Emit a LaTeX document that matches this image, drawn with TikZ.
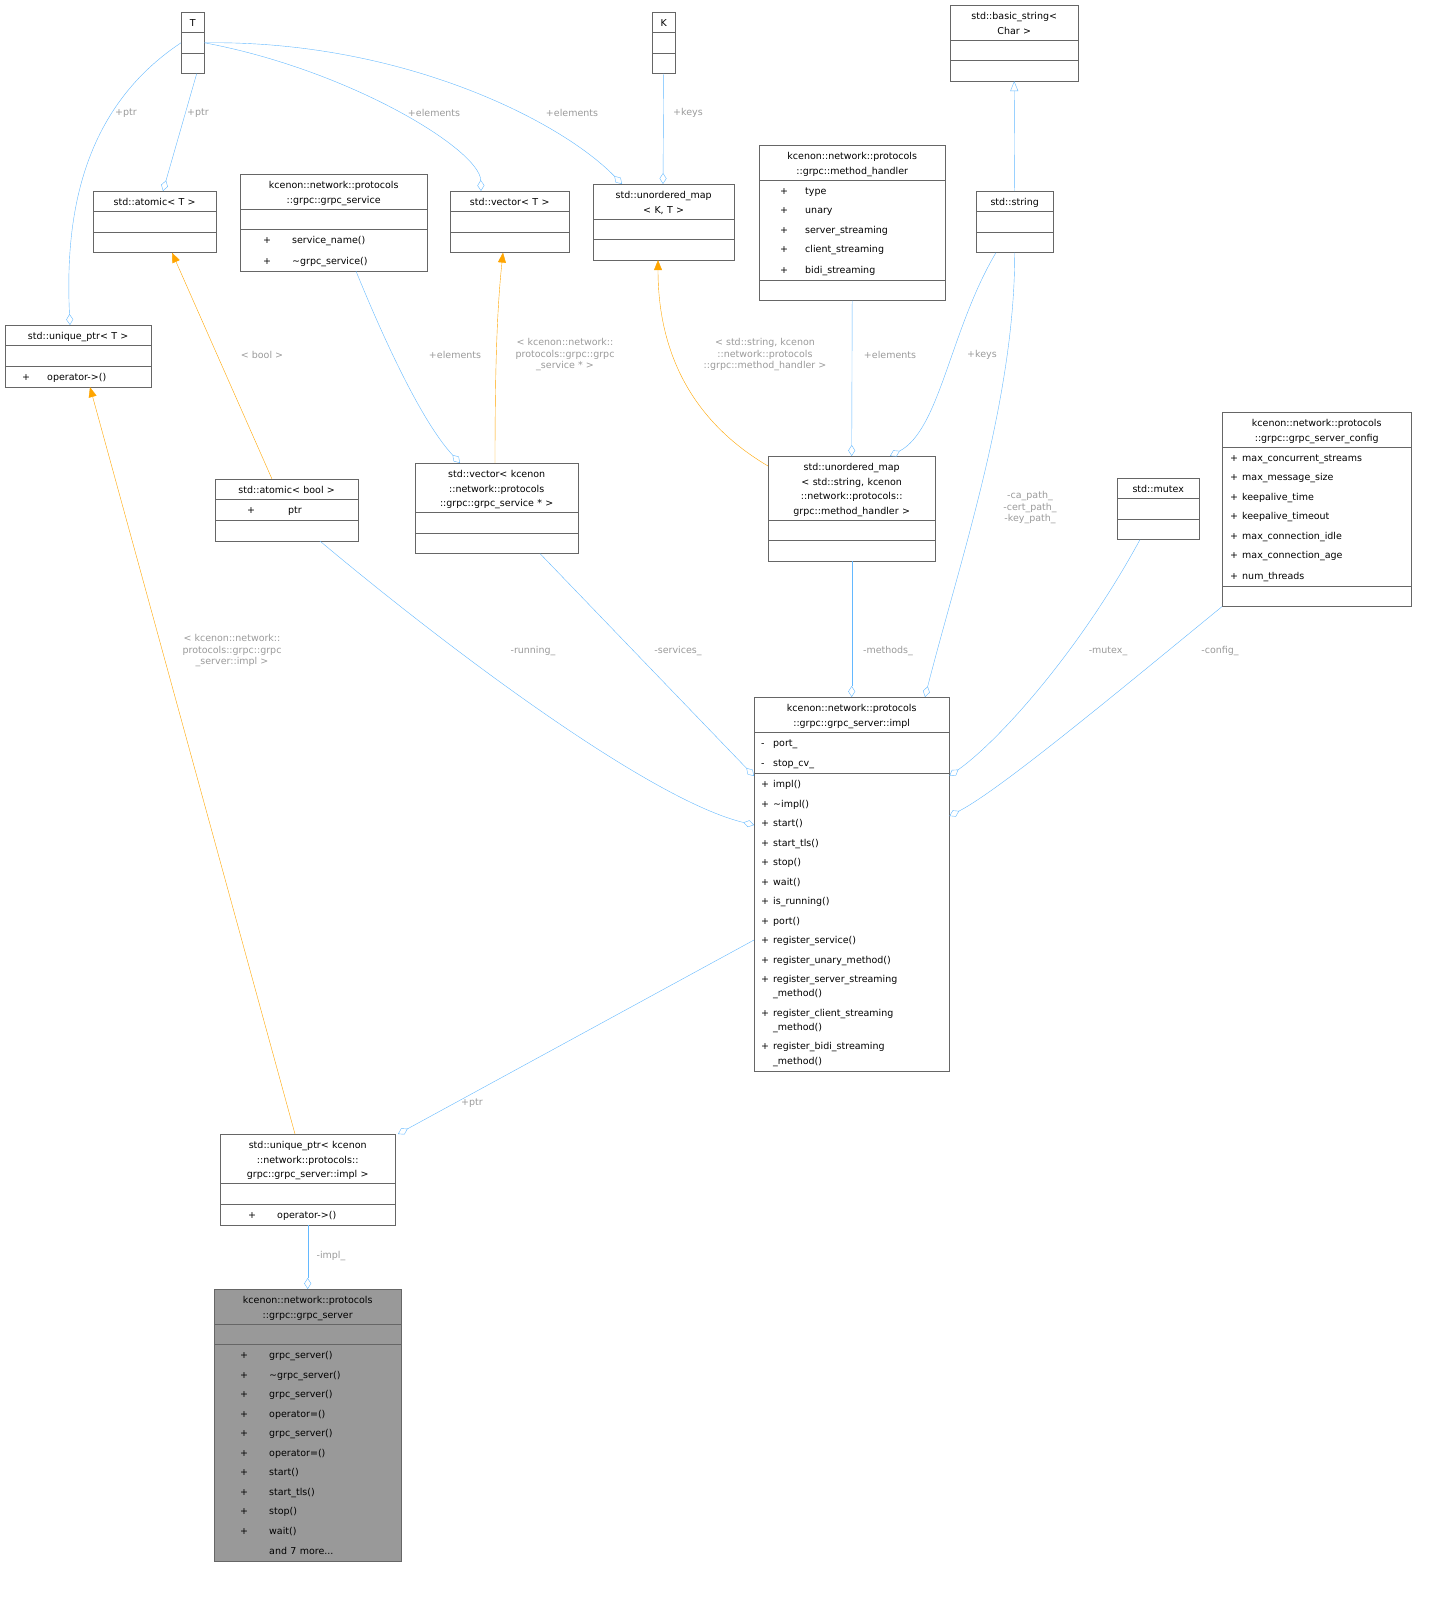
\documentclass[tikz,border=0pt]{standalone}
\usepackage{fontspec}
\setmainfont{DejaVu Sans}
\usetikzlibrary{shapes.multipart,arrows.meta}
\definecolor{edgeblue}{HTML}{63B8FF}
\definecolor{edgeorange}{HTML}{FFA500}
\definecolor{boxline}{HTML}{666666}
\definecolor{labelgray}{HTML}{9A9A9A}
\newcommand{\ttl}[1]{\centering\fontsize{9.5}{14.5}\selectfont\rule[-5pt]{0pt}{19pt}#1\rule[-5pt]{0pt}{5pt}\par}
\newcommand{\emp}{\rule[-5pt]{0pt}{19pt}}
\newcommand{\mfont}{\fontsize{9.5}{19.5}\selectfont}
\newcommand{\mb}[4]{\strut\hspace*{#1}\makebox[#2][l]{#3}#4}
\tikzset{
  classbox/.style={rectangle split, rectangle split parts=3, draw=boxline,
    anchor=north west, inner xsep=3pt, inner ysep=0.5pt,
    text width=#1},
  aggr/.style={draw=edgeblue, {Diamond[open,length=11pt,width=7pt]}-},
  inst/.style={draw=edgeorange, -{Triangle[length=10pt,width=8pt,fill=edgeorange]}},
  inher/.style={draw=edgeblue, -{Triangle[open,length=10pt,width=8pt]}},
  elabel/.style={text=labelgray, font=\fontsize{9.5}{11.5}\selectfont, align=center}
}
\begin{document}
\begin{tikzpicture}[x=1pt,y=-1pt]
\useasboundingbox (0,0) rectangle (1449,1603);
% classes
\node[classbox=17pt] (T) at (181,12) {\ttl{T}\nodepart{two}\emp\nodepart{three}\emp};
\node[classbox=17pt] (K) at (652,12) {\ttl{K}\nodepart{two}\emp\nodepart{three}\emp};
\node[classbox=122pt] (bstr) at (950,5) {\ttl{std::basic\_string<\\Char >}\nodepart{two}\emp\nodepart{three}\emp};
\node[classbox=117pt] (atomT) at (93,191) {\ttl{std::atomic< T >}\nodepart{two}\emp\nodepart{three}\emp};
\node[classbox=181pt] (gsvc) at (240,174) {\ttl{kcenon::network::protocols\\::grpc::grpc\_service}\nodepart{two}\emp\nodepart{three}\mfont
  \mb{20pt}{29pt}{+}{service\_name()}\\\mb{20pt}{29pt}{+}{\textasciitilde grpc\_service()}};
\node[classbox=113pt] (vecT) at (450,191) {\ttl{std::vector< T >}\nodepart{two}\emp\nodepart{three}\emp};
\node[classbox=135pt] (umapKT) at (593,184) {\ttl{std::unordered\_map\\< K, T >}\nodepart{two}\emp\nodepart{three}\emp};
\node[classbox=180pt] (mh) at (759,145) {\ttl{kcenon::network::protocols\\::grpc::method\_handler}\nodepart{two}\mfont
  \mb{18pt}{25pt}{+}{type}\\\mb{18pt}{25pt}{+}{unary}\\\mb{18pt}{25pt}{+}{server\_streaming}\\
  \mb{18pt}{25pt}{+}{client\_streaming}\\\mb{18pt}{25pt}{+}{bidi\_streaming}\nodepart{three}\emp};
\node[classbox=71pt] (str) at (976,191) {\ttl{std::string}\nodepart{two}\emp\nodepart{three}\emp};
\node[classbox=140pt] (uptrT) at (5,325) {\ttl{std::unique\_ptr< T >}\nodepart{two}\emp\nodepart{three}\mfont
  \mb{14pt}{25pt}{+}{operator->()}};
\node[classbox=137pt] (atomB) at (215,479) {\ttl{std::atomic< bool >}\nodepart{two}\mfont
  \mb{29pt}{41pt}{+}{ptr}\nodepart{three}\emp};
\node[classbox=157pt] (vecS) at (415,463) {\ttl{std::vector< kcenon\\::network::protocols\\::grpc::grpc\_service * >}\nodepart{two}\emp\nodepart{three}\emp};
\node[classbox=161pt] (umap2) at (768,456) {\ttl{std::unordered\_map\\< std::string, kcenon\\::network::protocols::\\grpc::method\_handler >}\nodepart{two}\emp\nodepart{three}\emp};
\node[classbox=76pt] (mutex) at (1117,478) {\ttl{std::mutex}\nodepart{two}\emp\nodepart{three}\emp};
\node[classbox=183pt] (cfg) at (1222,412) {\ttl{kcenon::network::protocols\\::grpc::grpc\_server\_config}\nodepart{two}\mfont
  \mb{5pt}{12pt}{+}{max\_concurrent\_streams}\\\mb{5pt}{12pt}{+}{max\_message\_size}\\
  \mb{5pt}{12pt}{+}{keepalive\_time}\\\mb{5pt}{12pt}{+}{keepalive\_timeout}\\
  \mb{5pt}{12pt}{+}{max\_connection\_idle}\\\mb{5pt}{12pt}{+}{max\_connection\_age}\\
  \mb{5pt}{12pt}{+}{num\_threads}\nodepart{three}\emp};
\node[classbox=189pt] (impl) at (754,697) {\ttl{kcenon::network::protocols\\::grpc::grpc\_server::impl}\nodepart{two}\mfont
  \mb{4pt}{12pt}{-}{port\_}\\\mb{4pt}{12pt}{-}{stop\_cv\_}\nodepart{three}\mfont
  \mb{4pt}{12pt}{+}{impl()}\\\mb{4pt}{12pt}{+}{\textasciitilde impl()}\\\mb{4pt}{12pt}{+}{start()}\\
  \mb{4pt}{12pt}{+}{start\_tls()}\\\mb{4pt}{12pt}{+}{stop()}\\\mb{4pt}{12pt}{+}{wait()}\\
  \mb{4pt}{12pt}{+}{is\_running()}\\\mb{4pt}{12pt}{+}{port()}\\\mb{4pt}{12pt}{+}{register\_service()}\\
  \mb{4pt}{12pt}{+}{register\_unary\_method()}\\
  \mb{4pt}{12pt}{+}{register\_server\_streaming}\\[-5.5pt]\mb{4pt}{12pt}{}{\_method()}\\
  \mb{4pt}{12pt}{+}{register\_client\_streaming}\\[-5.5pt]\mb{4pt}{12pt}{}{\_method()}\\
  \mb{4pt}{12pt}{+}{register\_bidi\_streaming}\\[-5.5pt]\mb{4pt}{12pt}{}{\_method()}};
\node[classbox=169pt] (uptrI) at (220,1134) {\ttl{std::unique\_ptr< kcenon\\::network::protocols::\\grpc::grpc\_server::impl >}\nodepart{two}\emp\nodepart{three}\mfont
  \mb{25pt}{29pt}{+}{operator->()}};
\node[classbox=181pt, fill=black!40] (srv) at (214,1289) {\ttl{kcenon::network::protocols\\::grpc::grpc\_server}\nodepart{two}\emp\nodepart{three}\mfont
  \mb{23pt}{29pt}{+}{grpc\_server()}\\\mb{23pt}{29pt}{+}{\textasciitilde grpc\_server()}\\
  \mb{23pt}{29pt}{+}{grpc\_server()}\\\mb{23pt}{29pt}{+}{operator=()}\\
  \mb{23pt}{29pt}{+}{grpc\_server()}\\\mb{23pt}{29pt}{+}{operator=()}\\
  \mb{23pt}{29pt}{+}{start()}\\\mb{23pt}{29pt}{+}{start\_tls()}\\
  \mb{23pt}{29pt}{+}{stop()}\\\mb{23pt}{29pt}{+}{wait()}\\\mb{23pt}{29pt}{}{and 7 more...}};
% connectors
\draw[aggr] ([xshift=65pt]uptrT.north west) .. controls (65,220) and (80,110) .. (T.west);
\node[elabel] (l1) at (126,113) {+ptr};
\draw[aggr] ([xshift=70pt]atomT.north west) -- ([xshift=4pt]T.south);
\node[elabel] (l2) at (198,113) {+ptr};
\draw[aggr] ([xshift=31pt]vecT.north west) .. controls (480,150) and (350,70) .. (T.east);
\node[elabel] (l3) at (434,113) {+elements};
\draw[aggr] ([xshift=29pt]umapKT.north west) .. controls (560,120) and (400,40) .. (T.east);
\node[elabel] (l4) at (572,113) {+elements};
\draw[aggr] ([xshift=70pt]umapKT.north west) -- (K.south);
\node[elabel] (l5) at (688,113) {+keys};
\draw[inher] (str.north) -- (bstr.south);
\draw[inst] ([xshift=57pt]atomB.north west) -- ([xshift=79pt]atomT.south west);
\node[elabel] (l7) at (262,355) {< bool >};
\draw[aggr] ([xshift=45pt]vecS.north west) .. controls (420,420) and (380,330) .. ([xshift=116pt]gsvc.south west);
\node[elabel] (l8) at (455,355) {+elements};
\draw[inst] ([xshift=80pt]vecS.north west) .. controls (495,350) and (498,300) .. ([xshift=53pt]vecT.south west);
\node[elabel] (l9) at (565,355) {< kcenon::network::\\protocols::grpc::grpc\\\_service * >};
\draw[inst] ([yshift=-10pt]umap2.north west) .. controls (690,420) and (658,350) .. ([xshift=65pt]umapKT.south west);
\node[elabel] (l10) at (765,355) {< std::string, kcenon\\::network::protocols\\::grpc::method\_handler >};
\draw[aggr] (umap2.north) -- (mh.south);
\node[elabel] (l11) at (890,355) {+elements};
\draw[aggr] ([xshift=122pt]umap2.north west) .. controls (940,430) and (950,330) .. ([xshift=20pt]str.south west);
\node[elabel] (l12) at (982,355) {+keys};
\draw[aggr] ([xshift=171pt]impl.north west) .. controls (960,560) and (1015,400) .. (str.south);
\node[elabel] (l13) at (1030,508) {-ca\_path\_\\-cert\_path\_\\-key\_path\_};
\draw[aggr] ([yshift=-128pt]impl.north west) .. controls (650,800) and (450,650) .. ([xshift=105pt]atomB.south west);
\node[elabel] (l14) at (533,651) {-running\_};
\draw[aggr] ([yshift=-79pt]impl.north west) -- ([xshift=125pt]vecS.south west);
\node[elabel] (l15) at (678,651) {-services\_};
\draw[aggr] (impl.north) -- (umap2.south);
\node[elabel] (l16) at (888,651) {-methods\_};
\draw[aggr] ([yshift=-79pt]impl.north east) .. controls (1000,740) and (1080,650) .. ([xshift=23pt]mutex.south west);
\node[elabel] (l17) at (1108,651) {-mutex\_};
\draw[aggr] ([yshift=-119pt]impl.north east) .. controls (1000,790) and (1120,690) .. (cfg.south west);
\node[elabel] (l18) at (1220,651) {-config\_};
\draw[inst] ([xshift=75pt]uptrI.north west) -- ([xshift=85pt]uptrT.south west);
\node[elabel] (l19) at (232,651) {< kcenon::network::\\protocols::grpc::grpc\\\_server::impl >};
\draw[aggr] ([xshift=178pt]uptrI.north west) -- ([yshift=-243pt]impl.north west);
\node[elabel] (l20) at (472,1103) {+ptr};
\draw[aggr] (srv.north) -- (uptrI.south);
\node[elabel] (l21) at (331,1256) {-impl\_};
\end{tikzpicture}
\end{document}
